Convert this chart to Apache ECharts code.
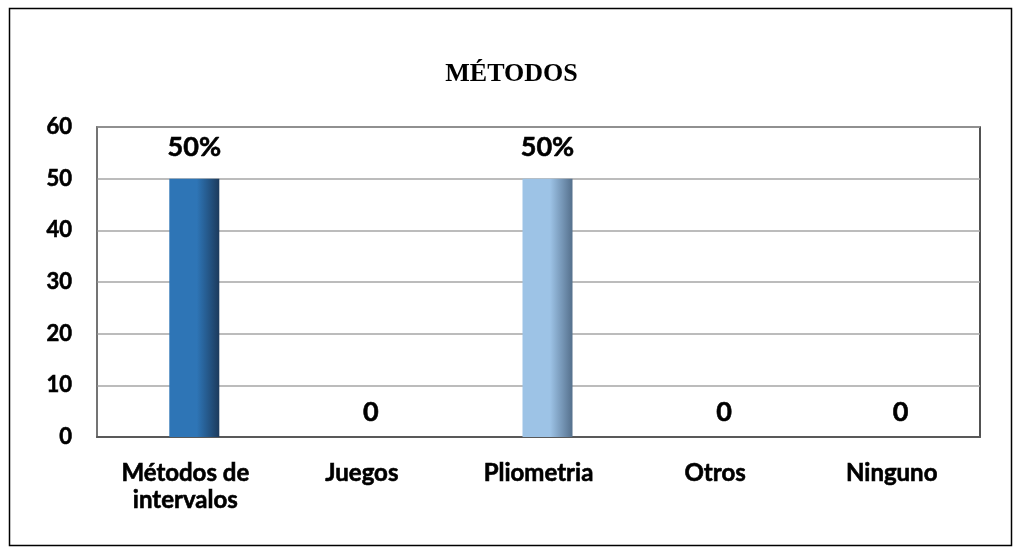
<!DOCTYPE html>
<html>
<head>
<meta charset="utf-8">
<script src="https://cdn.jsdelivr.net/npm/echarts@6/dist/echarts.min.js"></script>
<style>
  html, body { margin: 0; padding: 0; background: #fff; }
  #chart { width: 1023px; height: 552px; }
</style>
</head>
<body>
<div id="chart"></div>
<script>
// Chart data
const chartTitle = 'MÉTODOS';
const categories = ['Métodos de\nintervalos', 'Juegos', 'Pliometria', 'Otros', 'Ninguno'];
const values = [50, 0, 50, 0, 0];
const valueLabels = ['50%', '0', '50%', '0', '0'];
const yTicks = { min: 0, max: 60, interval: 10 };

// Bar colours: face colour and shaded right edge
const barFaces = ['#2E75B6', '#2E75B6', '#9DC3E6', '#2E75B6', '#2E75B6'];
const barEdges = ['#1C3A5C', '#1C3A5C', '#55708C', '#1C3A5C', '#1C3A5C'];

function shadedFill(face, edge) {
  return new echarts.graphic.LinearGradient(0, 0, 1, 0, [
    { offset: 0, color: face },
    { offset: 0.55, color: face },
    { offset: 0.8, color: echarts.color.lerp(0.55, [face, edge]) },
    { offset: 1, color: edge }
  ]);
}

const labelFont = 'Lato, "Open Sans", "DejaVu Sans", sans-serif';
// a thin outline in the text colour gives the heavier bold look
const heavy = { textBorderColor: '#000', textBorderWidth: 0.6 };

const barData = values.map((v, i) => ({
  value: v,
  itemStyle: { color: shadedFill(barFaces[i], barEdges[i]) },
  label: { distance: v > 0 ? 18 : 11 }
}));

const chart = echarts.init(document.getElementById('chart'), null, { renderer: 'canvas' });

chart.setOption({
  animation: false,
  backgroundColor: '#ffffff',
  title: {
    text: chartTitle,
    left: 'center',
    top: 56,
    textStyle: {
      fontFamily: '"Liberation Serif", "Times New Roman", serif',
      fontWeight: 'bold',
      fontSize: 26,
      color: '#000'
    }
  },
  graphic: [{
    type: 'rect',
    shape: { x: 9.5, y: 8.5, width: 1002, height: 537 },
    style: { fill: 'none', stroke: '#000', lineWidth: 1.5 },
    silent: true,
    z: -1
  }],
  grid: {
    left: 97,
    top: 127,
    right: 43,
    bottom: 115,
    show: true,
    borderColor: '#1a1a1a',
    borderWidth: 1.5,
    backgroundColor: '#fff'
  },
  xAxis: {
    type: 'category',
    data: categories,
    axisLine: { show: true, lineStyle: { color: '#595959', width: 2 } },
    axisTick: { show: false },
    axisLabel: Object.assign({
      interval: 0,
      margin: 23,
      fontFamily: labelFont,
      fontWeight: 'bold',
      fontSize: 24,
      lineHeight: 27,
      color: '#000'
    }, heavy)
  },
  yAxis: {
    type: 'value',
    min: yTicks.min,
    max: yTicks.max,
    interval: yTicks.interval,
    axisLine: { show: true, lineStyle: { color: '#808080', width: 1.5 } },
    axisTick: { show: false },
    axisLabel: Object.assign({
      margin: 25,
      fontFamily: labelFont,
      fontWeight: 'bold',
      fontSize: 22,
      color: '#000'
    }, heavy),
    splitLine: { show: true, lineStyle: { color: '#A6A6A6', width: 1.5 } }
  },
  series: [
    {
      // empty spacer that nudges the visible bars right of the category centre
      type: 'bar',
      data: values.map(() => '-'),
      barWidth: 18,
      barGap: '0%',
      silent: true,
      itemStyle: { color: 'transparent' }
    },
    {
      type: 'bar',
      data: barData,
      barWidth: 50,
      barGap: '0%',
      label: Object.assign({
        show: true,
        position: 'top',
        formatter: p => valueLabels[p.dataIndex],
        fontFamily: labelFont,
        fontWeight: 'bold',
        fontSize: 27,
        color: '#000'
      }, heavy)
    }
  ]
});
</script>
</body>
</html>
